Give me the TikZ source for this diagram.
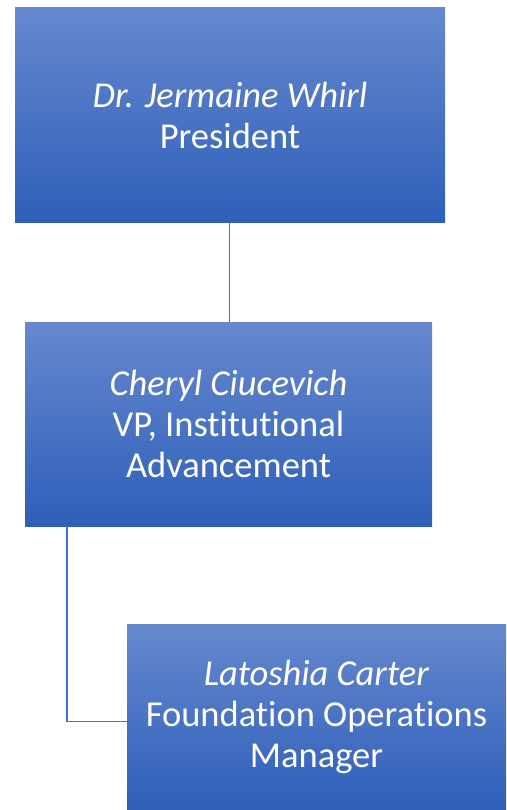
\documentclass[tikz,border=0pt]{standalone}
\usepackage{fontspec}
\setmainfont{Carlito}[Ligatures=NoCommon]
\definecolor{boxtop}{RGB}{102,136,206}
\definecolor{boxbot}{RGB}{46,95,185}
\definecolor{linkc}{RGB}{68,114,196}
\begin{document}
\begin{tikzpicture}[x=1pt,y=-1pt,
  orgbox/.style={rectangle, top color=boxtop, bottom color=boxbot, draw=none,
    text=white, align=center, inner sep=0pt,
    font=\fontsize{36.5}{41}\selectfont},
  link/.style={draw=linkc, line width=1.4pt}]
\useasboundingbox (0,0) rectangle (506,810);
\node[orgbox, minimum width=430pt, minimum height=215pt] (b1) at (230,115.5)
  {\textit{Dr. Jermaine Whirl}\\President};
\node[orgbox, minimum width=407pt, minimum height=204pt] (b2) at (228.5,424)
  {\textit{Cheryl Ciucevich}\\VP, Institutional\\Advancement};
\node[orgbox, minimum width=379pt, minimum height=186pt] (b3) at (316.5,717)
  {\textit{Latoshia Carter}\\Foundation Operations\\Manager};
\coordinate (c1) at ([xshift=-0.3pt]b1.south);
\coordinate (c2) at ([xshift=42.3pt]b2.south west);
\coordinate (c3) at ([yshift=-4.7pt]b3.west);
\draw[link] (c1) -- (c1 |- b2.north);
\draw[link] (c2) |- (c3);
\end{tikzpicture}
\end{document}
